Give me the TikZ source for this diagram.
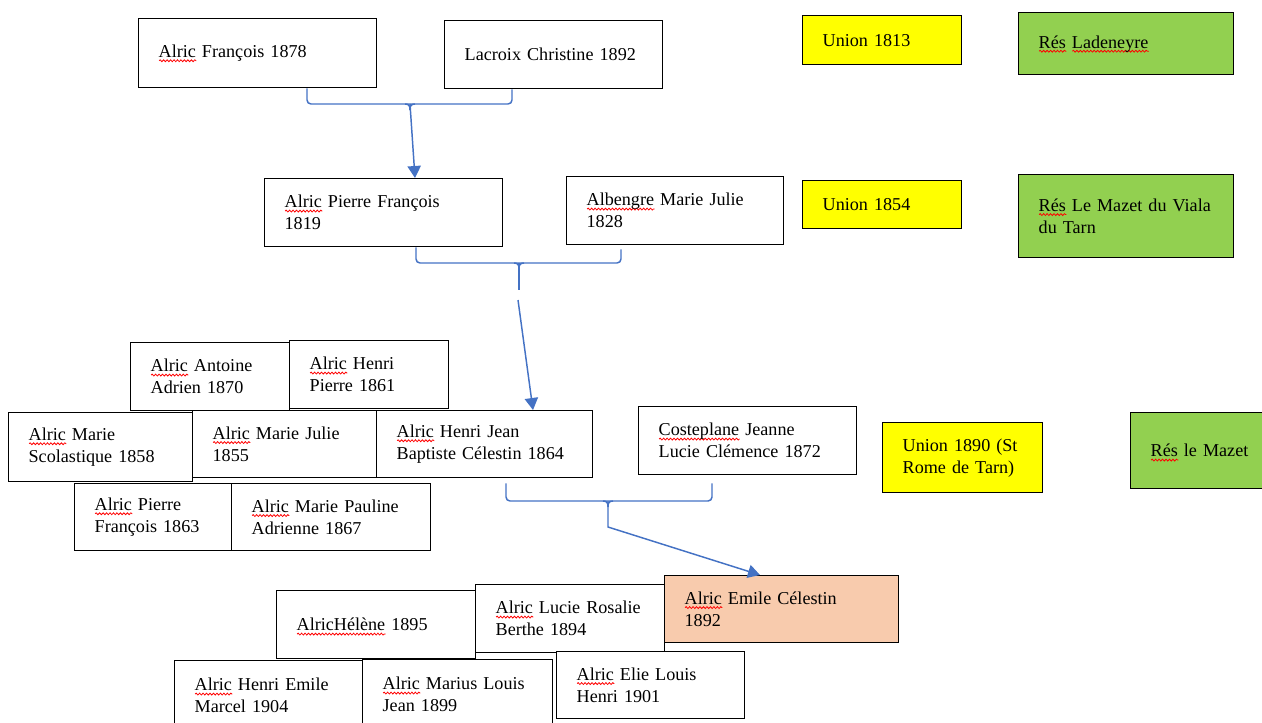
\documentclass[tikz,border=0pt]{standalone}
\usepackage{fontspec}
\setmainfont{Liberation Serif}
\usepackage{xcolor}
\usepackage{tikz}
\usetikzlibrary{arrows.meta, calc, decorations.pathmorphing}
\definecolor{unionyellow}{HTML}{FFFF00}
\definecolor{resgreen}{HTML}{92D050}
\definecolor{selfpeach}{HTML}{F8CBAD}
\definecolor{linkblue}{HTML}{4472C4}
% red spell-check wave under a word
\newcommand\sq[1]{\setbox0\hbox{#1}\rlap{\smash{\tikz[baseline=0pt]\draw[red, line width=0.6pt, decorate,
    decoration={snake, amplitude=0.7pt, segment length=2.6pt}] (0pt,-2.4pt) -- (\wd0,-2.4pt);}}\box0\relax}

\begin{document}
\begin{tikzpicture}[x=0.75pt, y=-0.75pt,
    pbox/.style={draw, line width=1pt, fill=white, anchor=north west, align=left,
                 inner xsep=15pt, inner ysep=0pt,
                 font=\fontsize{13.6pt}{16.5pt}\selectfont},
    union/.style={pbox, fill=unionyellow},
    res/.style={pbox, fill=resgreen},
    link/.style={draw=linkblue, line width=1.1pt},
    brace/.style={link, rounded corners=3pt},
    arrow/.style={link, -{Triangle[width=10pt, length=9pt]}}]

    % Frame of the screenshot
    \useasboundingbox (0,0) rectangle (1262,722);
    \clip (0,0) rectangle (1262,722);

    % Generation 1813
    \node[pbox, text width=148.5pt, minimum height=51.75pt] (francois) at (138,18) {\sq{Alric} François 1878};
    \node[pbox, text width=133.5pt, minimum height=51pt] (lacroix) at (444,20) {Lacroix Christine 1892};
    \node[union, text width=89.25pt, minimum height=36.75pt] (union1813) at (802,15) {Union 1813};
    \node[res, text width=131.25pt, minimum height=46.5pt] (res1813) at (1018,12) {\sq{Rés} \sq{Ladeneyre}};

    % Generation 1854
    \node[pbox, text width=148.5pt, minimum height=51pt] (pierre) at (264,178) {\sq{Alric} Pierre François\\1819};
    \node[pbox, text width=132.75pt, minimum height=51pt] (albengre) at (566,176) {\sq{Albengre} Marie Julie\\1828};
    \node[union, text width=89.25pt, minimum height=36pt] (union1854) at (802,180) {Union 1854};
    \node[res, text width=131.25pt, minimum height=62.25pt] (res1854) at (1018,174) {\sq{Rés} Le Mazet du Viala\\du Tarn};

    % Children of Pierre and Marie Julie
    \node[pbox, text width=89.25pt, minimum height=51pt] (antoine) at (130,342) {\sq{Alric} Antoine\\Adrien 1870};
    \node[pbox, text width=89.25pt, minimum height=51pt] (henripierre) at (289,340) {\sq{Alric} Henri\\Pierre 1861};
    \node[pbox, text width=108pt, minimum height=51.75pt] (scolastique) at (8,412) {\sq{Alric} Marie\\Scolastique 1858};
    \node[pbox, text width=108pt, minimum height=50.25pt] (mariejulie) at (192,410) {\sq{Alric} Marie Julie\\1855};
    \node[pbox, text width=132pt, minimum height=50.25pt] (henrijean) at (376,410) {\sq{Alric} Henri Jean\\Baptiste Célestin 1864};
    \node[pbox, text width=87.75pt, minimum height=50.25pt] (pierre63) at (74,483) {\sq{Alric} Pierre\\François 1863};
    \node[pbox, text width=119.25pt, minimum height=50.25pt] (pauline) at (231,483) {\sq{Alric} Marie Pauline\\Adrienne 1867};

    % Generation 1890
    \node[pbox, text width=133.5pt, minimum height=51pt] (costeplane) at (638,406) {\sq{Costeplane} Jeanne\\Lucie Clémence 1872};
    \node[union, text width=90pt, minimum height=52.5pt] (union1890) at (882,422) {Union 1890 (St\\Rome de Tarn)};
    \node[res, text width=131.25pt, minimum height=57pt] (res1890) at (1130,412) {\sq{Rés} le Mazet};

    % Children of Henri Jean and Jeanne
    \node[pbox, text width=119.25pt, minimum height=51pt] (helene) at (276,590) {\sq{AlricHélène} 1895};
    \node[pbox, text width=111.75pt, minimum height=51pt] (lucie) at (475,584) {\sq{Alric} Lucie Rosalie\\Berthe 1894};
    \node[pbox, fill=selfpeach, text width=145.5pt, minimum height=50.25pt] (emile) at (664,575) {\sq{Alric} Emile Célestin\\1892};
    \node[pbox, text width=111pt, minimum height=52.5pt] (marcel) at (174,660) {\sq{Alric} Henri Emile\\Marcel 1904};
    \node[pbox, text width=112.5pt, minimum height=52.5pt] (marius) at (362,659) {\sq{Alric} Marius Louis\\Jean 1899};
    \node[pbox, text width=111pt, minimum height=50.25pt] (elie) at (556,651) {\sq{Alric} Elie Louis\\Henri 1901};

    % Join points of the braces
    \coordinate (join1) at (410,104);
    \coordinate (join2) at (519,263);
    \coordinate (stub2) at (519,290);
    \coordinate (from2) at (518,300);
    \coordinate (join3) at (608,501);
    \coordinate (bend3) at (608,527);

    % Brace 1813 -> Pierre
    \draw[brace] ($(francois.south west)+(169,0)$) |- (join1) -| ($(lacroix.south west)+(68,0)$);
    \draw[link] ($(join1)+(-5,0)$) .. controls ($(join1)+(-1,0)$) and ($(join1)+(0,2)$) .. ($(join1)+(0,6)$)
                .. controls ($(join1)+(0,2)$) and ($(join1)+(1,0)$) .. ($(join1)+(5,0)$);
    \draw[arrow] (join1) -- ($(pierre.north west)+(151,0)$);

    % Brace 1854 -> Henri Jean
    \draw[brace] ($(pierre.south west)+(152,0)$) |- (join2) -| ($(albengre.south west)+(55,4)$);
    \draw[link] ($(join2)+(-5,0)$) .. controls ($(join2)+(-1,0)$) and ($(join2)+(0,2)$) .. ($(join2)+(0,6)$)
                .. controls ($(join2)+(0,2)$) and ($(join2)+(1,0)$) .. ($(join2)+(5,0)$);
    \draw[link] (join2) -- (stub2);
    \draw[arrow] (from2) -- ($(henrijean.north west)+(157,0)$);

    % Brace 1890 -> Emile
    \draw[brace] ($(henrijean.south west)+(130,5)$) |- (join3) -| ($(costeplane.south west)+(74,8)$);
    \draw[link] ($(join3)+(-5,0)$) .. controls ($(join3)+(-1,0)$) and ($(join3)+(0,2)$) .. ($(join3)+(0,6)$)
                .. controls ($(join3)+(0,2)$) and ($(join3)+(1,0)$) .. ($(join3)+(5,0)$);
    \draw[arrow] (join3) -- (bend3) -- ($(emile.north west)+(96,0)$);

\end{tikzpicture}
\end{document}
